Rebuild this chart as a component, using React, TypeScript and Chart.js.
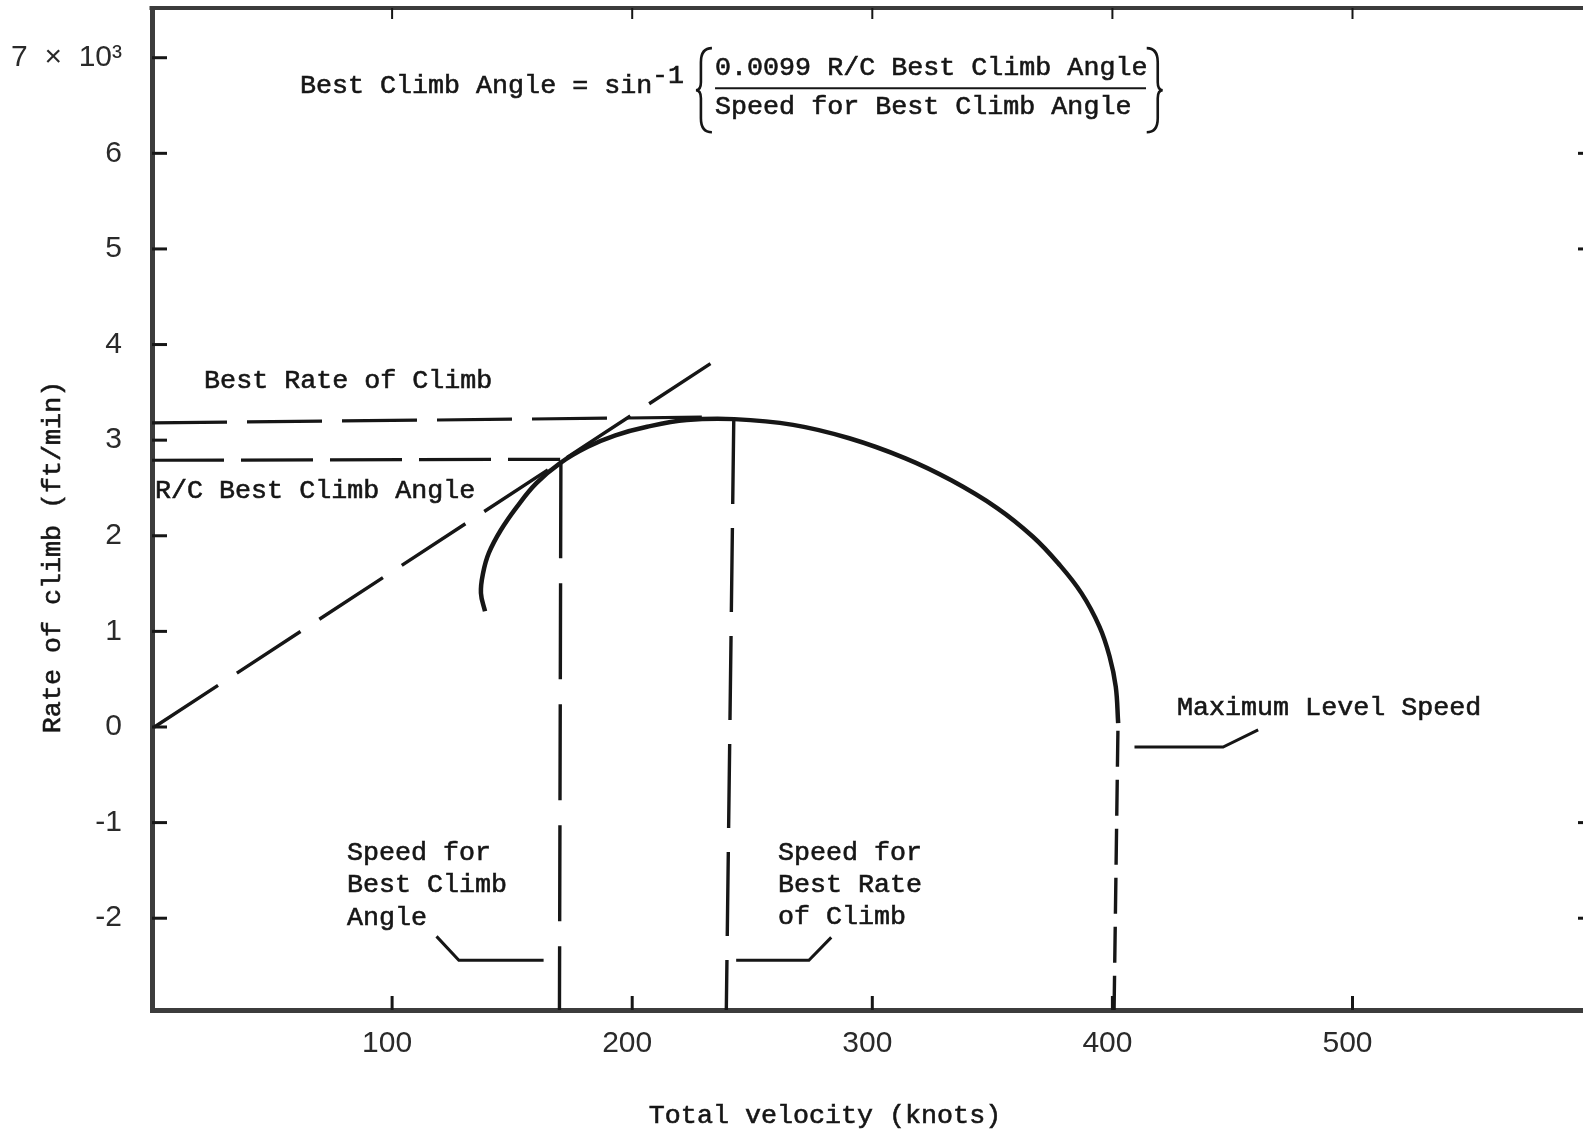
import { useEffect, useRef } from "react";
import { Chart, registerables } from "chart.js";

Chart.register(...registerables);

// ---- data (knots, thousands of ft/min) ----
const curveX = [138.7, 137.0, 137.9, 140.3, 145.3, 151.9, 160.1, 170.0, 181.5, 193.0, 206.2, 222.7, 242.5, 267.0, 290.4, 313.8, 332.9, 352.0, 366.9, 377.5, 387.1, 394.6, 398.8, 401.4, 402.4];
const curveY = [1.21, 1.40, 1.61, 1.82, 2.06, 2.30, 2.55, 2.76, 2.93, 3.05, 3.14, 3.21, 3.22, 3.16, 3.02, 2.81, 2.58, 2.29, 1.99, 1.71, 1.40, 1.05, 0.74, 0.42, 0.04];

const tangentX = [1.0, 232.6];
const tangentY = [0.0, 3.8];

const bestRateLevelX = [0, 229];
const bestRateLevelY = [3.18, 3.24];

const bestAngleLevelX = [0, 170];
const bestAngleLevelY = [2.79, 2.8];

const bestAngleSpeedX = [170.3, 169.7];
const bestAngleSpeedY = [2.77, -2.96];

const bestRateSpeedX = [242.3, 239.2];
const bestRateSpeedY = [3.21, -2.96];

const maxLevelSpeedX = [402.3, 400.7];
const maxLevelSpeedY = [-0.04, -2.96];

const leaderAngleX = [118.5, 127.8, 163.1];
const leaderAngleY = [-2.19, -2.44, -2.44];
const leaderRateX = [282.9, 273.6, 243.3];
const leaderRateY = [-2.2, -2.44, -2.44];
const leaderMaxX = [460.7, 446.1, 409.2];
const leaderMaxY = [-0.03, -0.21, -0.21];

const xTickValues = [100, 200, 300, 400, 500];
const yTickValues = [-2, -1, 0, 1, 2, 3, 4, 5, 6, 7];
const rightTickValues = [6, 5, -1, -2];

const noteText = ["Best Rate of Climb", "R/C Best Climb Angle", "Speed for", "Best Climb", "Angle", "Speed for", "Best Rate", "of Climb", "Maximum Level Speed"];
const noteX = [21.7, 1.25, 81.2, 81.2, 81.2, 260.7, 260.7, 260.7, 426.9];
const noteY = [3.62, 2.47, -1.32, -1.65, -2.0, -1.32, -1.65, -1.99, 0.2];

const formulaLead = "Best Climb Angle = sin";
const formulaExp = "-1";
const formulaNum = "0.0099 R/C Best Climb Angle";
const formulaDen = "Speed for Best Climb Angle";
const formulaLeadPos = [61.6, 6.7];
const formulaExpPos = [208.2, 6.81];
const formulaNumPos = [234.5, 6.89];
const formulaDenPos = [234.5, 6.49];
const formulaBarX = [234.5, 414.0];
const formulaBarY = 6.68;
const braceLeftX = 233.2;
const braceRightX = 414.3;
const braceY = [7.1, 6.66, 6.22];

const xTitle = "Total velocity (knots)";
const yTitle = "Rate of climb (ft/min)";

// ---- styles ----
const INK = "#161616";
const AXIS = "#3c3c3c";
const TYPE = '26.7px "Liberation Mono", "Courier New", monospace';
const NUM_FONT = { family: '"Liberation Sans", Arial, sans-serif', size: 30 };

const pts = (xs: number[], ys: number[]) => xs.map((v, i) => ({ x: v, y: ys[i] }));

const line = (data: any, width: number, dash: number[] = []) => ({
  data,
  showLine: true,
  borderColor: INK,
  backgroundColor: INK,
  borderWidth: width,
  borderDash: dash,
  pointRadius: 0,
  tension: 0,
  fill: false,
});

const decorPlugin = {
  id: "decor",
  beforeDraw(chart: any) {
    const { ctx, width, height } = chart;
    ctx.save();
    ctx.fillStyle = "#ffffff";
    ctx.fillRect(0, 0, width, height);
    ctx.restore();
  },
  afterDatasetsDraw(chart: any) {
    const { ctx, chartArea: ca, scales } = chart;
    const xs = scales.x;
    const ys = scales.y;
    const seg = (x1: number, y1: number, x2: number, y2: number) => {
      ctx.beginPath();
      ctx.moveTo(x1, y1);
      ctx.lineTo(x2, y2);
      ctx.stroke();
    };
    const text = (s: string, px: number, py: number) => {
      ctx.fillText(s, px, py);
      ctx.strokeText(s, px, py);
    };
    ctx.save();
    ctx.strokeStyle = AXIS;
    ctx.setLineDash([]);
    // top frame line
    ctx.lineWidth = 4;
    seg(ca.left - 2.5, ca.top, ca.right, ca.top);
    // tick marks
    ctx.strokeStyle = INK;
    ctx.lineWidth = 3;
    ys.ticks.forEach((t: any) => {
      const py = ys.getPixelForValue(t.value);
      seg(ca.left, py, ca.left + 15, py);
    });
    rightTickValues.forEach((v) => {
      const py = ys.getPixelForValue(v);
      seg(ca.right - 5, py, ca.right, py);
    });
    xs.ticks.forEach((t: any) => {
      const px = xs.getPixelForValue(t.value);
      seg(px, ca.bottom, px, ca.bottom - 14);
      ctx.lineWidth = 2;
      seg(px, ca.top, px, ca.top + 11);
      ctx.lineWidth = 3;
    });

    // annotations
    ctx.fillStyle = INK;
    ctx.strokeStyle = INK;
    ctx.font = TYPE;
    ctx.textAlign = "left";
    ctx.textBaseline = "middle";
    ctx.lineWidth = 0.6;
    noteText.forEach((s, i) => {
      text(s, xs.getPixelForValue(noteX[i]), ys.getPixelForValue(noteY[i]));
    });

    // formula
    text(formulaLead, xs.getPixelForValue(formulaLeadPos[0]), ys.getPixelForValue(formulaLeadPos[1]));
    text(formulaExp, xs.getPixelForValue(formulaExpPos[0]), ys.getPixelForValue(formulaExpPos[1]));
    text(formulaNum, xs.getPixelForValue(formulaNumPos[0]), ys.getPixelForValue(formulaNumPos[1]));
    text(formulaDen, xs.getPixelForValue(formulaDenPos[0]), ys.getPixelForValue(formulaDenPos[1]));
    ctx.lineWidth = 2;
    const by = ys.getPixelForValue(formulaBarY);
    seg(xs.getPixelForValue(formulaBarX[0]), by, xs.getPixelForValue(formulaBarX[1]), by);

    // braces
    const ty = ys.getPixelForValue(braceY[0]);
    const my = ys.getPixelForValue(braceY[1]);
    const bt = ys.getPixelForValue(braceY[2]);
    const brace = (x0: number, dir: number) => {
      const w = 11 * dir;
      ctx.beginPath();
      ctx.moveTo(x0, ty);
      ctx.quadraticCurveTo(x0 - w, ty, x0 - w, ty + 14);
      ctx.lineTo(x0 - w, my - 8);
      ctx.quadraticCurveTo(x0 - w, my, x0 - w - 5 * dir, my);
      ctx.quadraticCurveTo(x0 - w, my, x0 - w, my + 8);
      ctx.lineTo(x0 - w, bt - 14);
      ctx.quadraticCurveTo(x0 - w, bt, x0, bt);
      ctx.stroke();
    };
    ctx.lineWidth = 2.6;
    brace(xs.getPixelForValue(braceLeftX), 1);
    brace(xs.getPixelForValue(braceRightX), -1);

    // axis titles
    ctx.lineWidth = 0.6;
    ctx.textAlign = "center";
    text(xTitle, 825, 1116);
    ctx.save();
    ctx.translate(53, 557);
    ctx.rotate(-Math.PI / 2);
    text(yTitle, 0, 0);
    ctx.restore();

    ctx.restore();
  },
};

export default function App() {
  const ref = useRef<HTMLCanvasElement>(null);
  useEffect(() => {
    const canvas = ref.current;
    if (!canvas) return;
    const chart = new Chart(canvas, {
      type: "scatter",
      data: {
        datasets: [
          line(pts(curveX, curveY), 4.5),
          line(pts(tangentX, tangentY), 3.4, [76, 22.5]),
          line(pts(bestRateLevelX, bestRateLevelY), 3.2, [75, 20]),
          line(pts(bestAngleLevelX, bestAngleLevelY), 3.2, [72, 17]),
          line(pts(bestAngleSpeedX, bestAngleSpeedY), 3.4, [96, 25]),
          line(pts(bestRateSpeedX, bestRateSpeedY), 3.4, [84, 24]),
          line(pts(maxLevelSpeedX, maxLevelSpeedY), 3.4, [36, 13]),
          line(pts(leaderAngleX, leaderAngleY), 3),
          line(pts(leaderRateX, leaderRateY), 3),
          line(pts(leaderMaxX, leaderMaxY), 3),
        ].map((d: any, i: number) => (i === 0 ? { ...d, tension: 0.4 } : d)),
      },
      options: {
        animation: false,
        responsive: false,
        devicePixelRatio: 1,
        events: [],
        layout: { padding: { top: 8, right: 0, left: 0, bottom: 0 } },
        plugins: { legend: { display: false }, tooltip: { enabled: false }, title: { display: false } },
        scales: {
          x: {
            type: "linear",
            min: 0,
            max: 596,
            afterFit: (s: any) => {
              s.height = 124;
              s.paddingLeft = 0;
              s.paddingRight = 0;
            },
            afterBuildTicks: (s: any) => {
              s.ticks = xTickValues.map((v) => ({ value: v }));
            },
            grid: { display: false, drawTicks: false },
            border: { display: true, color: AXIS, width: 5 },
            ticks: {
              color: "#2a2a2a",
              font: NUM_FONT,
              padding: 16,
              labelOffset: -5,
              maxRotation: 0,
              autoSkip: false,
              callback: (v: any) => String(v),
            },
          },
          y: {
            type: "linear",
            min: -2.96,
            max: 7.52,
            afterFit: (s: any) => {
              s.width = 152;
              s.paddingTop = 0;
              s.paddingBottom = 0;
            },
            afterBuildTicks: (s: any) => {
              s.ticks = yTickValues.map((v) => ({ value: v }));
            },
            grid: { display: false, drawTicks: false },
            border: { display: true, color: AXIS, width: 5 },
            ticks: {
              color: "#2a2a2a",
              font: NUM_FONT,
              padding: 30,
              autoSkip: false,
              callback: (v: any) => (v === 7 ? "7  ×  10³" : String(v)),
            },
          },
        },
      },
      plugins: [decorPlugin],
    } as any);
    return () => chart.destroy();
  }, []);
  return (
    <div style={{ position: "fixed", left: 0, top: 0, width: 1583, height: 1134, background: "#fff", overflow: "hidden" }}>
      <canvas ref={ref} width={1583} height={1134} style={{ display: "block", width: 1583, height: 1134 }} />
    </div>
  );
}
